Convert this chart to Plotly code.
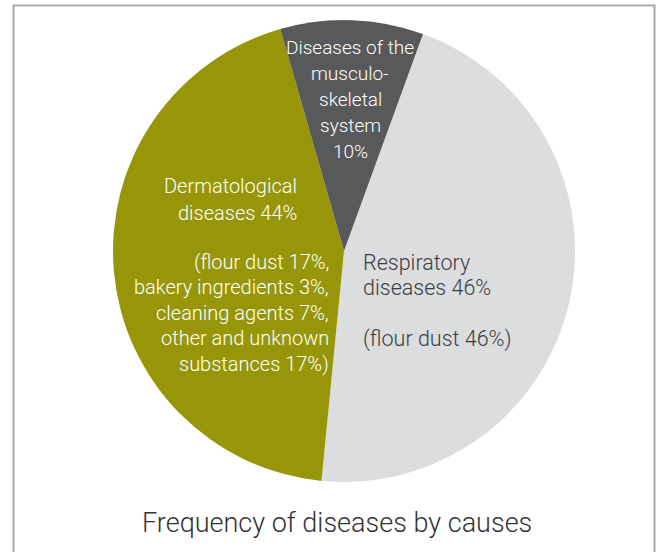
import plotly.graph_objects as go

categories = ["Respiratory diseases", "Dermatological diseases", "Diseases of the musculo-skeletal system"]
values = [46, 44, 10]
colors = ["#dcdddf", "#979608", "#58595b"]

musculo_lines = ["Diseases of the", "musculo-", "skeletal", "system", "10%"]
derm_head = ["Dermatological", "diseases 44%"]
derm_detail = ["(flour dust 17%,", "bakery ingredients 3%,", "cleaning agents 7%,",
               "other and unknown", "substances 17%)"]
resp_lines = ["Respiratory", "diseases 46%", "", "(flour dust 46%)"]
title_text = "Frequency of diseases by causes"

W, H = 662, 552


def px(x):
    return x / W


def py(y):
    return 1 - y / H


fig = go.Figure()
fig.add_trace(go.Pie(
    labels=categories,
    values=values,
    sort=False,
    direction="clockwise",
    rotation=20,
    marker=dict(colors=colors, line=dict(width=0)),
    textinfo="none",
    hoverinfo="label+percent",
    showlegend=False,
    domain=dict(x=[px(344 - 231), px(344 + 231)], y=[py(482), py(20)]),
))

FONT = "Roboto"
ann = []


def add_lines(lines, x, y0, dy, anchor, size, color):
    for i, t in enumerate(lines):
        if not t:
            continue
        ann.append(dict(text=t, x=px(x), y=py(y0 + i * dy), xanchor=anchor, yanchor="middle",
                        align=anchor if anchor != "center" else "center",
                        xref="paper", yref="paper", showarrow=False,
                        font=dict(family=FONT, size=size, color=color, weight=300)))


add_lines(musculo_lines, 350, 47, 26, "center", 19, "#ffffff")
add_lines(derm_head, 299, 186, 26.5, "right", 20, "#ffffff")
add_lines(derm_detail, 331, 262, 25.4, "right", 20, "#ffffff")
add_lines(resp_lines, 361, 262, 25.5, "left", 21.5, "#3c3c3e")
add_lines([title_text], 337, 523, 0, "center", 27, "#333333")

frame = dict(color="#a9a9a9", width=2)
shapes = [
    dict(type="line", xref="paper", yref="paper", x0=px(13.5), x1=px(13.5), y0=py(5.5), y1=py(560), line=frame),
    dict(type="line", xref="paper", yref="paper", x0=px(654.5), x1=px(654.5), y0=py(5.5), y1=py(560), line=frame),
    dict(type="line", xref="paper", yref="paper", x0=px(12.5), x1=px(655.5), y0=py(5.5), y1=py(5.5), line=frame),
]

fig.update_layout(
    width=W, height=H,
    margin=dict(l=0, r=0, t=0, b=0),
    paper_bgcolor="#ffffff",
    plot_bgcolor="#ffffff",
    annotations=ann,
    shapes=shapes,
)

fig.write_html("out.html", config={"displayModeBar": False},
               post_script="document.body.style.margin='0px';")
